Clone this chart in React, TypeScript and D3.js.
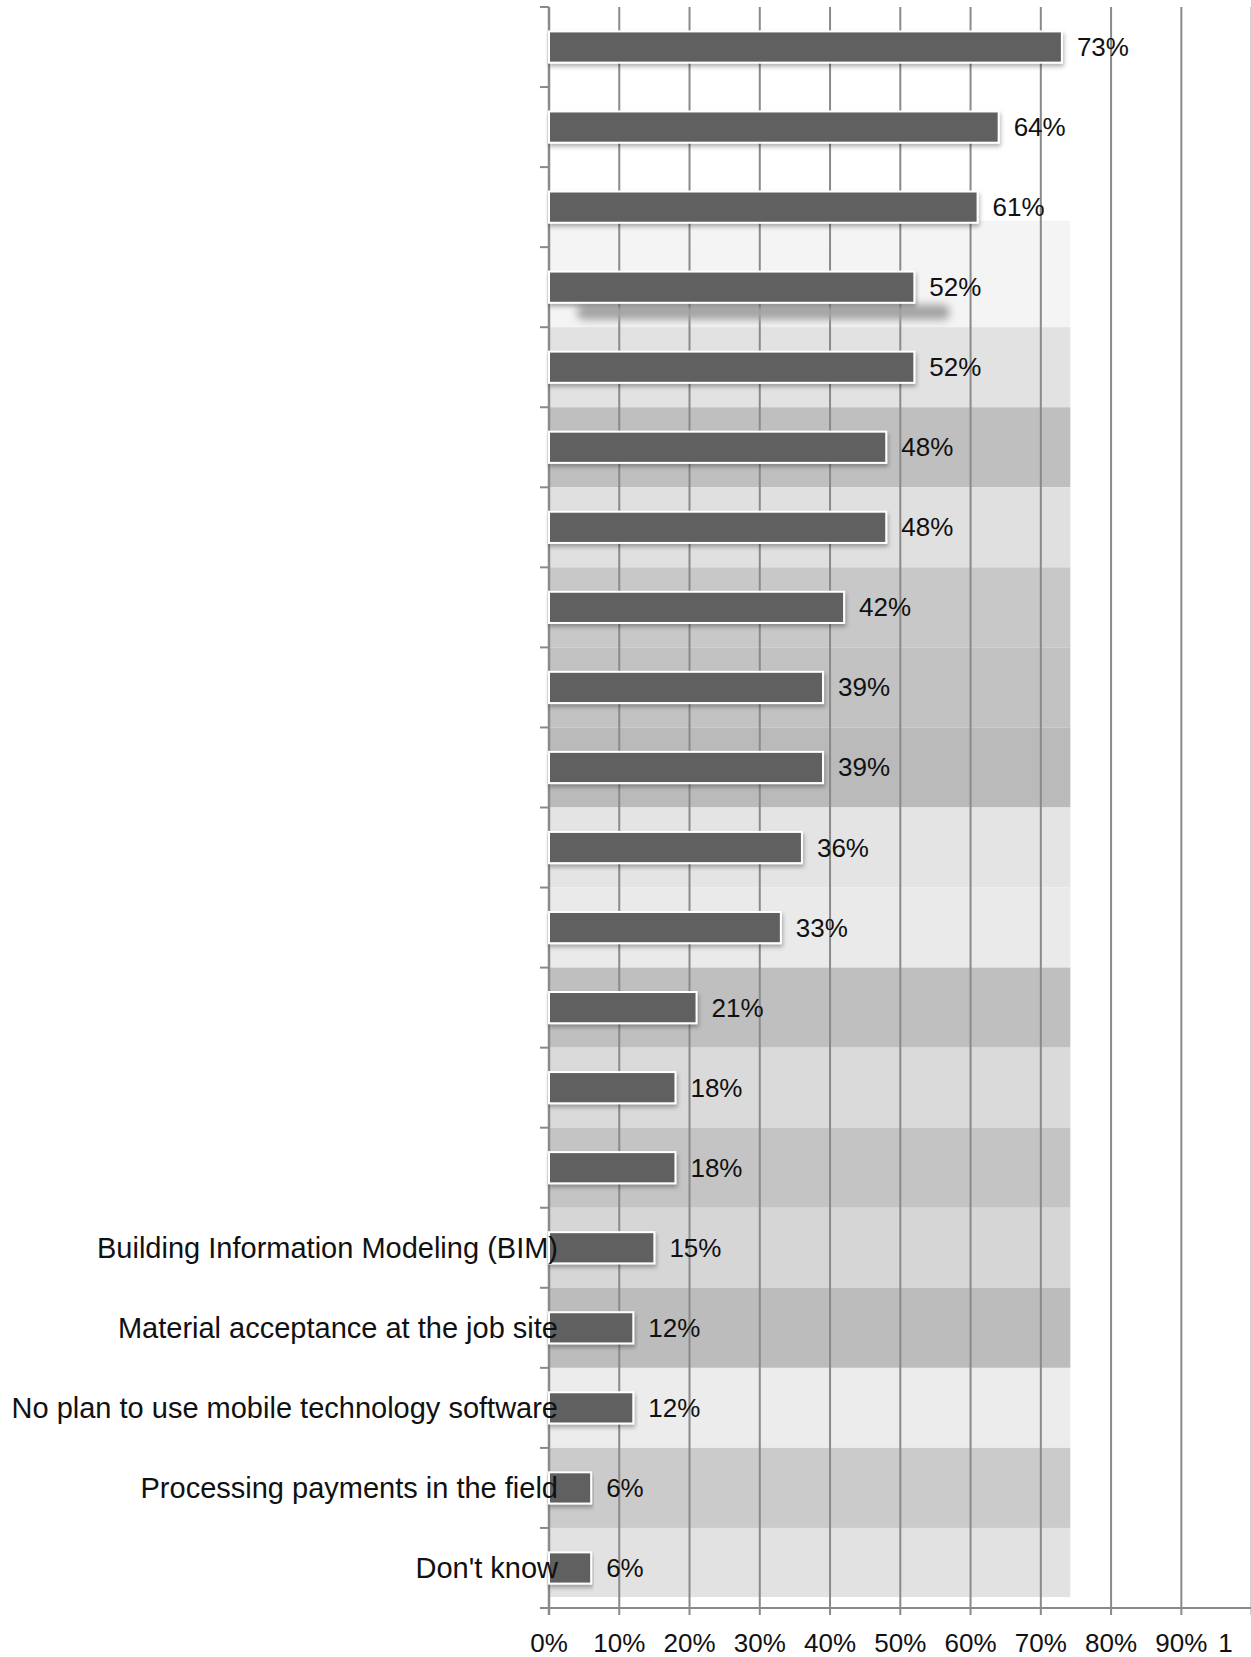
import React from "react";
import * as d3 from "d3";

// Category keys (only the last five labels are visible in the source image)
const categoryKeys = [
  "c01", "c02", "c03", "c04", "c05", "c06", "c07", "c08", "c09", "c10",
  "c11", "c12", "c13", "c14", "c15", "c16", "c17", "c18", "c19", "c20",
];
const categoryLabels = [
  "", "", "", "", "", "", "", "", "", "",
  "", "", "", "", "",
  "Building Information Modeling (BIM)",
  "Material acceptance at the job site",
  "No plan to use mobile technology software",
  "Processing payments in the field",
  "Don't know",
];
const values = [73, 64, 61, 52, 52, 48, 48, 42, 39, 39, 36, 33, 21, 18, 18, 15, 12, 12, 6, 6];
const xTicks = [0, 10, 20, 30, 40, 50, 60, 70, 80, 90, 100];
const xTickLabels = ["0%", "10%", "20%", "30%", "40%", "50%", "60%", "70%", "80%", "90%", "100%"];
// Background tone (scanned image noise) per category band, from band index 2 on
const bandTones = [
  "#f4f4f4", "#f4f4f4", "#e2e2e2", "#bfbfbf", "#e0e0e0", "#c8c8c8", "#c2c2c2",
  "#bababa", "#e4e4e4", "#eaeaea", "#bfbfbf", "#dadada", "#c4c4c4", "#d6d6d6",
  "#bcbcbc", "#ececec", "#cbcbcb", "#e2e2e2",
];

const W = 1251;
const H = 1657;
const FONT = "'Liberation Sans', Arial, Helvetica, sans-serif";

export default function App() {
  const x = d3.scaleLinear().domain([0, 100]).range([549, 1251.6]);
  const y = d3
    .scaleBand<string>()
    .domain(categoryKeys)
    .range([7, 1608])
    .paddingInner(0.61)
    .paddingOuter(0.305);
  const step = y.step();
  const bw = y.bandwidth();
  const top = 7;
  const bottom = 1608;
  const noiseRight = x(74.2);
  const bandStart = (i: number) => top + i * step;

  return (
    <svg
      width={W}
      height={H}
      style={{ position: "absolute", left: 0, top: 0, background: "#fff" }}
      fontFamily={FONT}
    >
      <defs>
        <filter id="shadow" x="-5%" y="-30%" width="110%" height="180%">
          <feDropShadow dx="1" dy="3" stdDeviation="2" floodColor="#000" floodOpacity="0.3" />
        </filter>
        <filter id="blur4" x="-20%" y="-100%" width="140%" height="300%">
          <feGaussianBlur stdDeviation="4" />
        </filter>
        <clipPath id="pageclip">
          <rect x={0} y={0} width={1233} height={H} />
        </clipPath>
      </defs>
      <rect width={W} height={H} fill="#fff" />

      {/* noisy background area */}
      {bandTones.map((c, k) => {
        const i = k + 2;
        const y0 = i === 2 ? (y(categoryKeys[2]) as number) + bw - 2 : bandStart(i);
        const y1 = i === categoryKeys.length - 1 ? bottom - 11 : bandStart(i + 1);
        return <rect key={"bg" + i} x={x(0)} y={y0} width={noiseRight - x(0)} height={y1 - y0} fill={c} />;
      })}

      {/* gridlines */}
      {xTicks.slice(1).map((t) => (
        <line key={"g" + t} x1={x(t)} x2={x(t)} y1={top} y2={bottom + 7} stroke="#8a8a8a" strokeWidth={2} />
      ))}

      {/* axes */}
      <line x1={540} x2={W} y1={bottom} y2={bottom} stroke="#8a8a8a" strokeWidth={2} />
      <line x1={x(0)} x2={x(0)} y1={top} y2={bottom + 7} stroke="#8a8a8a" strokeWidth={2.5} />
      {d3.range(categoryKeys.length + 1).map((i) => (
        <line key={"yt" + i} x1={540} x2={x(0)} y1={bandStart(i)} y2={bandStart(i)} stroke="#8a8a8a" strokeWidth={2} />
      ))}

      {/* stray shadow under the fourth bar, as in the source */}
      <rect
        x={x(4)}
        y={(y(categoryKeys[3]) as number) + bw + 2}
        width={x(57) - x(4)}
        height={15}
        rx={6}
        fill="#a2a2a2"
        filter="url(#blur4)"
      />

      {/* bars */}
      {values.map((v, i) => (
        <rect
          key={"b" + i}
          x={x(0)}
          y={y(categoryKeys[i])}
          width={x(v) - x(0)}
          height={bw}
          fill="#616161"
          stroke="#fff"
          strokeWidth={2}
          filter="url(#shadow)"
        />
      ))}

      {/* value labels */}
      {values.map((v, i) => (
        <text
          key={"v" + i}
          x={x(v) + 15}
          y={(y(categoryKeys[i]) as number) + bw / 2 + 9}
          fontSize={26}
          fill="#111"
        >
          {v + "%"}
        </text>
      ))}

      {/* category labels */}
      {categoryLabels.map((l, i) =>
        l ? (
          <text
            key={"c" + i}
            x={558}
            y={(y(categoryKeys[i]) as number) + bw / 2 + 10}
            fontSize={29}
            textAnchor="end"
            fill="#111"
          >
            {l}
          </text>
        ) : null
      )}

      {/* x tick labels (the source image is cropped just after the "1" of 100%) */}
      <g clipPath="url(#pageclip)">
        {xTicks.map((t, i) => (
          <text key={"xl" + t} x={x(t)} y={1652} fontSize={26} textAnchor="middle" fill="#111">
            {xTickLabels[i]}
          </text>
        ))}
      </g>
    </svg>
  );
}
